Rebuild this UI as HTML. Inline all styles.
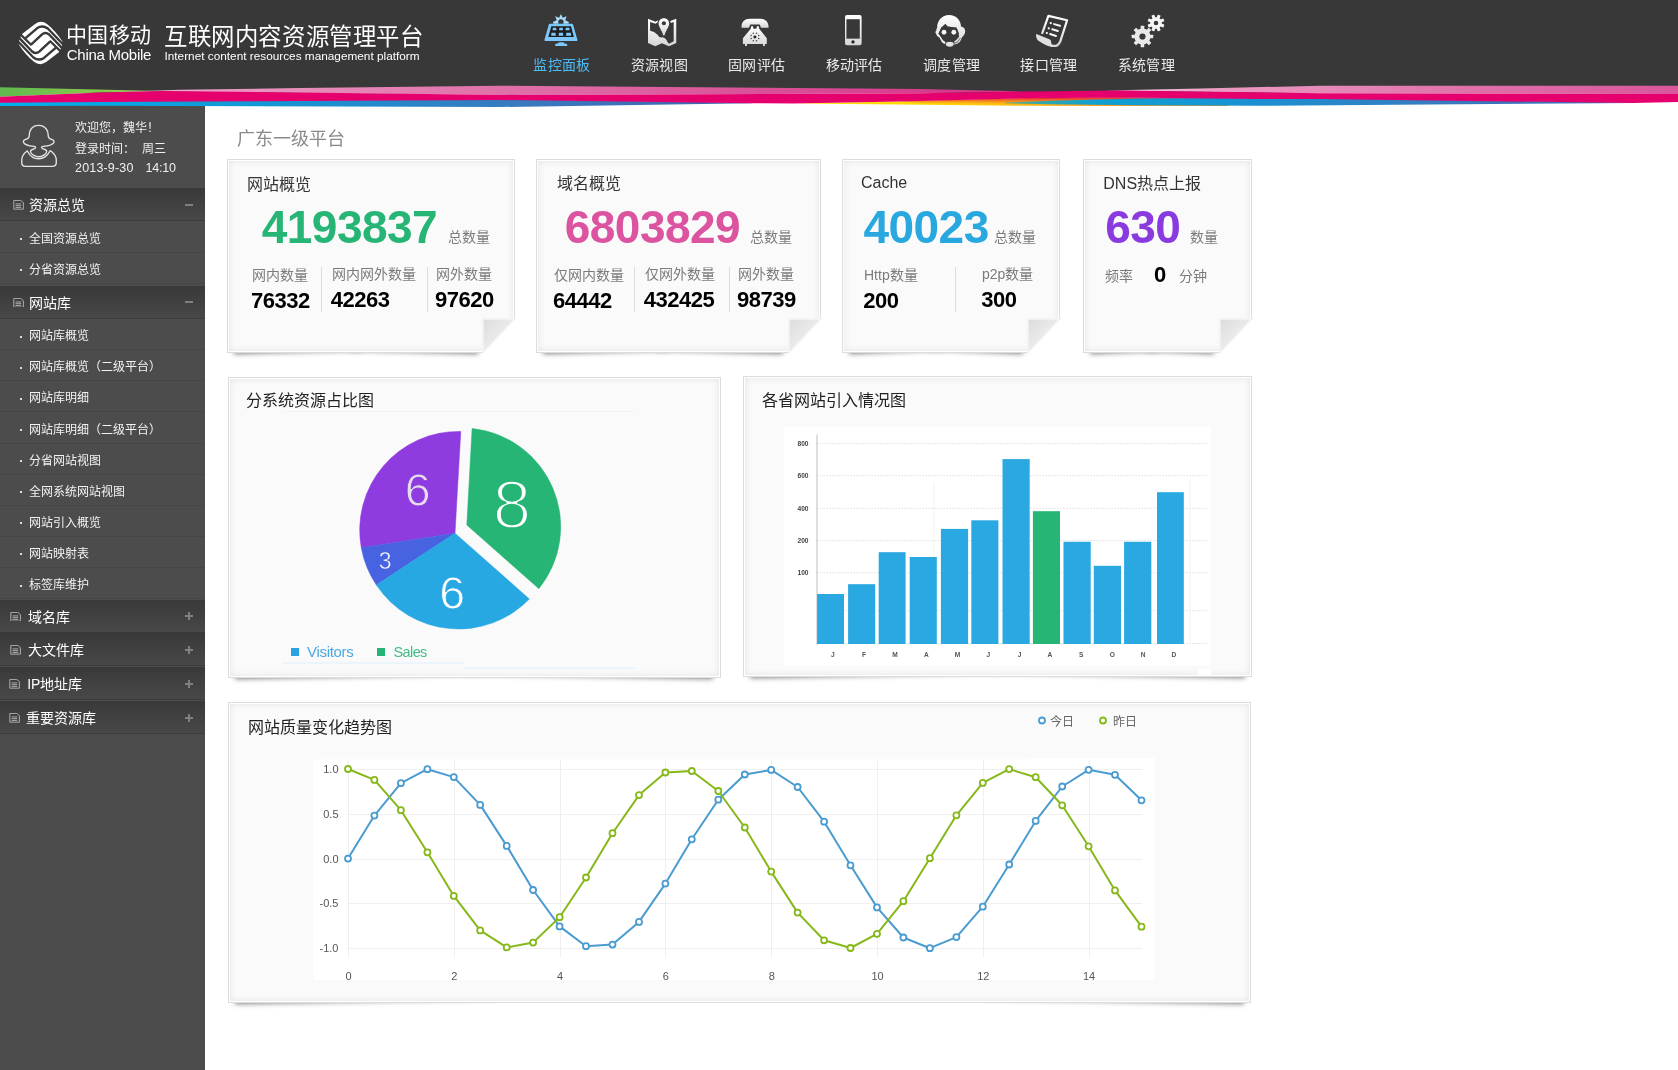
<!DOCTYPE html>
<html lang="zh-CN"><head><meta charset="utf-8"><title>互联网内容资源管理平台</title>
<style>
*{margin:0;padding:0;box-sizing:border-box}
html,body{width:1678px;height:1070px;overflow:hidden;background:#fff}
body{font-family:"Liberation Sans",sans-serif;position:relative;color:#333;will-change:transform}
.a{position:absolute;white-space:nowrap}
.hdr{left:0;top:0;width:1678px;height:93px;background:#383838}
.side{left:0;top:100px;width:205px;height:970px;background:#4c4c4c}
.t{position:absolute;white-space:nowrap;line-height:20px;height:20px}
.nav{position:absolute;top:55px;width:98px;text-align:center;font-size:14px;line-height:20px;color:#eaeaea;letter-spacing:.3px}
.sh{position:absolute;left:0;width:205px;height:33px;background:linear-gradient(#393939,#484848);border-bottom:1px solid #3b3b3b}
.sh .lb{position:absolute;left:28px;top:7px;font-size:14px;line-height:20px;color:#fff}
.sh .mh{position:absolute;left:185px;top:15.5px;width:8px;height:2px;background:#808080}
.sh .mv{position:absolute;left:188px;top:12.5px;width:2px;height:8px;background:#808080}
.si{position:absolute;left:0;width:205px;height:31px;border-bottom:1px solid #454545;font-size:12px;line-height:30px;color:#f2f2f2}
.si i{position:absolute;left:20px;top:16.5px;width:2px;height:2px;background:#ddd}
.si span{position:absolute;left:29px;top:2px}
.card{position:absolute;background:#fafafa;border:1px solid #dcdcdc;box-shadow:inset 0 0 0 1px #fff, inset 0 0 7px 1px rgba(0,0,0,.09)}
.num{position:absolute;font-weight:bold;white-space:nowrap}
</style></head>
<body>
<div class="a hdr"></div>
<div class="a side"></div>
<svg class="a" style="left:10px;top:115px" width="60" height="60" viewBox="0 0 1070 1070">
<g fill="none" stroke="#e6e6e6" stroke-width="24" stroke-linejoin="round" stroke-linecap="round">
<path d="M510 185 C390 185 345 280 345 350 C345 400 320 425 280 435 C245 445 235 470 240 485 C260 540 380 555 430 560 C465 565 460 590 440 600 C400 610 365 615 365 650 C370 700 450 745 510 745 C570 745 650 700 655 650 C655 615 620 610 580 600 C560 590 555 565 590 560 C640 555 760 540 785 485 C790 470 775 445 740 435 C700 425 680 400 680 350 C680 280 630 185 510 185 Z"/>
<path d="M300 645 C240 690 210 740 210 800 L210 850 C210 890 240 915 280 915 L750 915 C790 915 825 890 825 850 L825 800 C825 740 790 690 735 645 C720 640 705 645 700 660 C670 730 590 780 510 780 C430 780 355 730 320 660 C315 645 305 640 300 645 Z"/>
</g></svg>
<div class="t" style="left:75px;top:120.4px;font-size:12px;line-height:16px;height:16px;color:#efefef;">欢迎您，魏华！</div>
<div class="t" style="left:75px;top:140.6px;font-size:12px;line-height:16px;height:16px;color:#efefef;">登录时间：&nbsp; 周三</div>
<div class="t" style="left:75px;top:160.4px;font-size:12.5px;line-height:17px;height:17px;color:#efefef;letter-spacing:.18px;">2013-9-30</div>
<div class="t" style="left:145.6px;top:160.4px;font-size:12.5px;line-height:17px;height:17px;color:#efefef;letter-spacing:-.25px;">14:10</div>
<div class="sh" style="top:188px"><svg style="position:absolute;left:12.8px;top:12px" width="11.2" height="9.6" viewBox="0 0 12 11"><path d="M.5 .5 H8.5 L11.5 3 V10.5 H.5 Z" fill="none" stroke="#bbb" stroke-width="1"/><path d="M2.5 4.5 H9 M2.5 6.5 H9 M2.5 8.5 H9" stroke="#bbb" stroke-width="1"/></svg><span class="lb" style="left:28.5px">资源总览</span><i class="mh"></i></div>
<div class="si" style="top:221.5px"><i></i><span>全国资源总览</span></div>
<div class="si" style="top:252.5px"><i></i><span>分省资源总览</span></div>
<div class="sh" style="top:285.5px"><svg style="position:absolute;left:12.8px;top:12px" width="11.2" height="9.6" viewBox="0 0 12 11"><path d="M.5 .5 H8.5 L11.5 3 V10.5 H.5 Z" fill="none" stroke="#bbb" stroke-width="1"/><path d="M2.5 4.5 H9 M2.5 6.5 H9 M2.5 8.5 H9" stroke="#bbb" stroke-width="1"/></svg><span class="lb" style="left:28.5px">网站库</span><i class="mh"></i></div>
<div class="si" style="top:319.2px"><i></i><span>网站库概览</span></div>
<div class="si" style="top:350.3px"><i></i><span>网站库概览（二级平台）</span></div>
<div class="si" style="top:381.4px"><i></i><span>网站库明细</span></div>
<div class="si" style="top:412.5px"><i></i><span>网站库明细（二级平台）</span></div>
<div class="si" style="top:443.6px"><i></i><span>分省网站视图</span></div>
<div class="si" style="top:474.7px"><i></i><span>全网系统网站视图</span></div>
<div class="si" style="top:505.8px"><i></i><span>网站引入概览</span></div>
<div class="si" style="top:536.9px"><i></i><span>网站映射表</span></div>
<div class="si" style="top:568px"><i></i><span>标签库维护</span></div>
<div class="sh" style="top:599.6px"><svg style="position:absolute;left:10px;top:12px" width="11.2" height="9.6" viewBox="0 0 12 11"><path d="M.5 .5 H8.5 L11.5 3 V10.5 H.5 Z" fill="none" stroke="#bbb" stroke-width="1"/><path d="M2.5 4.5 H9 M2.5 6.5 H9 M2.5 8.5 H9" stroke="#bbb" stroke-width="1"/></svg><span class="lb" style="left:27.8px">域名库</span><i class="mh"></i><i class="mv"></i></div>
<div class="sh" style="top:633.45px"><svg style="position:absolute;left:10px;top:12px" width="11.2" height="9.6" viewBox="0 0 12 11"><path d="M.5 .5 H8.5 L11.5 3 V10.5 H.5 Z" fill="none" stroke="#bbb" stroke-width="1"/><path d="M2.5 4.5 H9 M2.5 6.5 H9 M2.5 8.5 H9" stroke="#bbb" stroke-width="1"/></svg><span class="lb" style="left:27.8px">大文件库</span><i class="mh"></i><i class="mv"></i></div>
<div class="sh" style="top:667.3px"><svg style="position:absolute;left:9px;top:12px" width="11.2" height="9.6" viewBox="0 0 12 11"><path d="M.5 .5 H8.5 L11.5 3 V10.5 H.5 Z" fill="none" stroke="#bbb" stroke-width="1"/><path d="M2.5 4.5 H9 M2.5 6.5 H9 M2.5 8.5 H9" stroke="#bbb" stroke-width="1"/></svg><span class="lb" style="left:27.2px">IP地址库</span><i class="mh"></i><i class="mv"></i></div>
<div class="sh" style="top:701.15px"><svg style="position:absolute;left:9px;top:12px" width="11.2" height="9.6" viewBox="0 0 12 11"><path d="M.5 .5 H8.5 L11.5 3 V10.5 H.5 Z" fill="none" stroke="#bbb" stroke-width="1"/><path d="M2.5 4.5 H9 M2.5 6.5 H9 M2.5 8.5 H9" stroke="#bbb" stroke-width="1"/></svg><span class="lb" style="left:26px">重要资源库</span><i class="mh"></i><i class="mv"></i></div>
<svg class="a" style="left:0;top:84px" width="1678" height="26" viewBox="0 84 1678 26">
<defs>
<linearGradient id="gG" x1="0" x2="162" gradientUnits="userSpaceOnUse"><stop offset="0" stop-color="#62b94f"/><stop offset="1" stop-color="#9bd44a"/></linearGradient>
<linearGradient id="gL1" x1="105" x2="1030" gradientUnits="userSpaceOnUse"><stop offset="0" stop-color="#f6cfe0"/><stop offset=".12" stop-color="#eb9ac2"/><stop offset=".4" stop-color="#e074ab"/><stop offset=".75" stop-color="#d94c96"/><stop offset="1" stop-color="#d63087"/></linearGradient>
<linearGradient id="gL2" x1="1110" x2="1678" gradientUnits="userSpaceOnUse"><stop offset="0" stop-color="#f6cfe0"/><stop offset=".2" stop-color="#eb9ac2"/><stop offset=".6" stop-color="#e074ab"/><stop offset="1" stop-color="#d9569c"/></linearGradient>
<linearGradient id="gB1" x1="0" x2="760" gradientUnits="userSpaceOnUse"><stop offset="0" stop-color="#00b2ee"/><stop offset=".35" stop-color="#1496d4"/><stop offset=".7" stop-color="#3a78be"/><stop offset="1" stop-color="#3d66b0"/></linearGradient>
<linearGradient id="gB2" x1="1030" x2="1640" gradientUnits="userSpaceOnUse"><stop offset="0" stop-color="#3aa9a0"/><stop offset=".1" stop-color="#10a0d0"/><stop offset=".3" stop-color="#1496d4"/><stop offset=".7" stop-color="#3a78be"/><stop offset="1" stop-color="#3d66b0"/></linearGradient>
<linearGradient id="gY" x1="793" x2="1210" gradientUnits="userSpaceOnUse"><stop offset="0" stop-color="#ffe600"/><stop offset=".4" stop-color="#ffcf0a"/><stop offset=".7" stop-color="#f9a11b"/><stop offset="1" stop-color="#f7941d"/></linearGradient>
<linearGradient id="gO" x1="0" x2="0" y1="97.5" y2="104" gradientUnits="userSpaceOnUse"><stop offset="0" stop-color="#e8203c"/><stop offset=".45" stop-color="#f0662a" stop-opacity=".85"/><stop offset="1" stop-color="#f58220" stop-opacity="0"/></linearGradient>
</defs>
<polygon points="0,87.3 162,91 100,92.6 0,96.8" fill="url(#gG)"/>
<polygon points="105,92.4 180,89.8 300,88 500,85.8 700,87.2 920,89 1030,91.5 920,93.3 520,95 162,91.6" fill="url(#gL1)"/>
<polygon points="1105,90.6 1200,88.4 1320,85.8 1678,85.8 1678,94 1320,93.3" fill="url(#gL2)"/>
<polygon points="0,101.6 100,100.9 500,99 750,102.8 752,103.2 500,107 100,105.8 0,106" fill="url(#gB1)"/>
<polygon points="793,103.5 900,101.5 1030,98.2 1118,97.5 1210,98.8 1230,106 1118,106 1030,105.8 900,104.6" fill="url(#gY)"/>
<polygon points="900,101.3 965,99.6 1030,98 1118,97.3 1210,98.6 1150,100.4 1080,102.2 1010,104 930,104" fill="url(#gO)"/>
<polygon points="1005,102.8 1051,100.7 1137,98.6 1210,98 1320,98 1633,102.6 1635,103 1258,105.8 1137,105.2 1051,104.3 1005,103.2" fill="url(#gB2)"/>
<polygon points="0,96.7 100,92.5 162,91 520,95 920,93.2 1030,91.5 1118,90.5 1320,93.25 1678,94 1678,102 1633,103 1320,99 1258,99 1118,97.5 1030,98.25 900,101.5 793,103.5 750,103.2 500,100 100,102 0,102.7" fill="#e5006d"/>
</svg>
<svg class="a" style="left:17px;top:20px" width="48" height="46" viewBox="0 0 1117 1070"><path d="M110 330 L420 92 Q565 -10 705 98 Q900 260 1050 490 Q1075 540 1040 620 L990 740 L680 978 Q535 1080 395 972 Q200 810 50 580 Q25 530 60 450 Z" fill="#fff"/><g fill="none" stroke="#383838" stroke-linejoin="round"><path d="M192 428 L472 188 Q590 105 718 198 L1075 570" stroke-width="56"/><path d="M326 572 L583 333 Q660 268 748 338 L1050 655" stroke-width="56"/><path d="M908 642 L628 882 Q510 965 382 872 L25 500" stroke-width="56"/><path d="M774 498 L517 737 Q440 802 352 732 L50 415" stroke-width="56"/><path d="M80 335 L338 588" stroke-width="52"/><path d="M1020 735 L762 482" stroke-width="52"/></g></svg>
<div class="t" style="left:66px;top:23.3px;font-size:21px;line-height:24px;height:24px;color:#fff;letter-spacing:.35px;">中国移动</div>
<div class="t" style="left:66.8px;top:43.8px;font-size:15px;line-height:21px;height:21px;color:#fff;letter-spacing:-.27px;">China Mobile</div>
<div class="t" style="left:164px;top:23.45px;font-size:23.4px;line-height:28px;height:28px;color:#fff;letter-spacing:.6px;">互联网内容资源管理平台</div>
<div class="t" style="left:164.5px;top:48px;font-size:11.8px;line-height:16px;height:16px;color:#fff;">Internet content resources management platform</div>
<div class="nav" style="left:513px;color:#4cbcf6;">监控面板</div>
<div class="nav" style="left:610.4px;">资源视图</div>
<div class="nav" style="left:707.8px;">固网评估</div>
<div class="nav" style="left:805.2px;">移动评估</div>
<div class="nav" style="left:902.6px;">调度管理</div>
<div class="nav" style="left:1000px;">接口管理</div>
<div class="nav" style="left:1097.4px;">系统管理</div>
<svg class="a" style="left:535px;top:8px" width="60" height="50" viewBox="0 0 1284 1070"><polygon points="383,300 464,262 433,178 517,209 555,128 593,209 677,178 646,262 727,300 715,335 395,335" fill="#a6dcfd"/><circle cx="555" cy="300" r="58" fill="#383838"/><path d="M318 335 H792 Q808 335 812 350 L908 680 Q912 705 890 705 H220 Q198 705 202 680 L298 350 Q302 335 318 335 Z" fill="#7cc8fc"/><polygon points="350,393 770,393 832,618 285,618" fill="#1f1d1d"/><polygon points="383,425 454,425 462,478 375,478" fill="#7cc8fc"/><polygon points="523,425 592,425 600,478 515,478" fill="#7cc8fc"/><polygon points="658,425 734,425 742,478 650,478" fill="#7cc8fc"/><polygon points="353,532 439,532 447,592 345,592" fill="#7cc8fc"/><polygon points="511,532 597,532 605,592 503,592" fill="#7cc8fc"/><polygon points="671,532 767,532 775,592 663,592" fill="#7cc8fc"/><path d="M430 815 V780 Q430 770 445 768 Q500 760 520 735 H600 Q620 760 675 768 Q690 770 690 780 V815 Z" fill="#7cc8fc"/></svg>
<svg class="a" style="left:630px;top:8px" width="60" height="50" viewBox="0 0 1284 1070"><defs><linearGradient id="ig" x1="0" y1="0" x2="0" y2="1"><stop offset="0" stop-color="#ffffff"/><stop offset="1" stop-color="#d6d6d6"/></linearGradient></defs><path d="M385 232 L545 292 L600 262 L588 312 L545 338 L430 298 V488 Q520 500 590 570 Q620 640 690 628 Q770 640 810 740 L835 765 L935 712 V300 L870 322 L862 280 L990 232 V748 L835 818 L682 757 L540 818 L385 748 Z" fill="url(#ig)"/><path d="M725 218 C790 218 838 266 838 330 C838 400 770 470 738 588 H712 C680 470 612 400 612 330 C612 266 660 218 725 218 Z M725 285 A45 42 0 1 0 725.1 285 Z" fill="url(#ig)" fill-rule="evenodd"/></svg>
<svg class="a" style="left:727px;top:8px" width="60" height="50" viewBox="0 0 1284 1070"><defs><linearGradient id="ig" x1="0" y1="0" x2="0" y2="1"><stop offset="0" stop-color="#ffffff"/><stop offset="1" stop-color="#d6d6d6"/></linearGradient></defs><path d="M312 425 C300 300 380 232 480 232 H720 C820 232 900 300 888 425 H728 L700 352 H498 L470 425 Z" fill="url(#ig)"/><path d="M518 388 H556 L566 445 H630 L640 388 H678 L690 445 L852 650 V772 H812 V815 H770 V772 H428 V815 H385 V772 H340 V650 L508 445 Z" fill="url(#ig)"/><circle cx="597" cy="620" r="32" fill="#222"/><circle cx="678" cy="654" r="16" fill="#444"/><circle cx="631" cy="701" r="16" fill="#444"/><circle cx="563" cy="701" r="16" fill="#444"/><circle cx="516" cy="654" r="16" fill="#444"/><circle cx="516" cy="586" r="16" fill="#444"/><circle cx="563" cy="539" r="16" fill="#444"/><circle cx="631" cy="539" r="16" fill="#444"/><circle cx="678" cy="586" r="16" fill="#444"/></svg>
<svg class="a" style="left:824px;top:8px" width="60" height="50" viewBox="0 0 1284 1070"><defs><linearGradient id="ig" x1="0" y1="0" x2="0" y2="1"><stop offset="0" stop-color="#ffffff"/><stop offset="1" stop-color="#d6d6d6"/></linearGradient></defs><rect x="450" y="150" width="355" height="645" rx="42" fill="url(#ig)"/><rect x="480" y="240" width="286" height="416" fill="#383838"/><circle cx="620" cy="726" r="36" fill="#222"/></svg>
<svg class="a" style="left:921px;top:8px" width="60" height="50" viewBox="0 0 1284 1070"><defs><linearGradient id="ig" x1="0" y1="0" x2="0" y2="1"><stop offset="0" stop-color="#ffffff"/><stop offset="1" stop-color="#d6d6d6"/></linearGradient></defs><path d="M372 545 C330 540 310 470 345 430 C340 270 450 150 600 150 C760 150 850 270 858 400 C920 400 950 450 945 510 C940 580 900 600 870 640 C850 720 800 775 700 780 L690 745 C770 740 810 690 820 640 L800 540 L762 420 L565 395 L522 345 L432 420 L385 540 Z" fill="url(#ig)"/><path d="M332 515 Q350 580 412 612 L468 718 L500 742" fill="none" stroke="#ededed" stroke-width="50" stroke-linecap="round" stroke-linejoin="round"/><polygon points="432,420 522,345 565,395 762,420 812,545 730,700 560,720 470,690 375,545" fill="#383838"/><circle cx="492" cy="520" r="52" fill="#f4f4f4"/><circle cx="702" cy="520" r="52" fill="#f4f4f4"/><path d="M840 620 L770 700 L735 720" fill="none" stroke="#e4e4e4" stroke-width="40" stroke-linecap="round"/><path d="M845 640 Q800 740 700 765" fill="none" stroke="#383838" stroke-width="14"/><ellipse cx="615" cy="775" rx="82" ry="52" fill="#e2e2e2"/></svg>
<svg class="a" style="left:1020px;top:8px" width="60" height="50" viewBox="0 0 1284 1070"><defs><linearGradient id="ig" x1="0" y1="0" x2="0" y2="1"><stop offset="0" stop-color="#ffffff"/><stop offset="1" stop-color="#d6d6d6"/></linearGradient></defs><path d="M478 535 L608 168 L1008 262 L862 715 Q800 840 688 805" fill="none" stroke="url(#ig)" stroke-width="48" stroke-linejoin="round" stroke-linecap="round"/><path d="M345 560 Q350 555 365 560 L640 672 Q672 690 668 745 Q672 790 705 800 Q720 830 690 832 Q600 830 400 705 Q335 650 345 560 Z" fill="#e0e0e0"/><circle cx="658" cy="325" r="24" fill="#fff"/><circle cx="615" cy="435" r="24" fill="#fff"/><circle cx="575" cy="535" r="24" fill="#fff"/><line x1="730" y1="345" x2="855" y2="382" stroke="#f6f6f6" stroke-width="44" stroke-linecap="round"/><line x1="690" y1="455" x2="810" y2="492" stroke="#f6f6f6" stroke-width="44" stroke-linecap="round"/><line x1="645" y1="558" x2="770" y2="598" stroke="#f6f6f6" stroke-width="44" stroke-linecap="round"/></svg>
<svg class="a" style="left:1117px;top:8px" width="60" height="50" viewBox="0 0 1284 1070"><defs><linearGradient id="ig" x1="0" y1="0" x2="0" y2="1"><stop offset="0" stop-color="#ffffff"/><stop offset="1" stop-color="#d6d6d6"/></linearGradient></defs><circle cx="545" cy="610" r="172" fill="#e9e9e9"/><rect x="507" y="380" width="76" height="230" rx="10" fill="#e9e9e9" transform="rotate(0 545 610)"/><rect x="507" y="380" width="76" height="230" rx="10" fill="#e9e9e9" transform="rotate(45 545 610)"/><rect x="507" y="380" width="76" height="230" rx="10" fill="#e9e9e9" transform="rotate(90 545 610)"/><rect x="507" y="380" width="76" height="230" rx="10" fill="#e9e9e9" transform="rotate(135 545 610)"/><rect x="507" y="380" width="76" height="230" rx="10" fill="#e9e9e9" transform="rotate(180 545 610)"/><rect x="507" y="380" width="76" height="230" rx="10" fill="#e9e9e9" transform="rotate(225 545 610)"/><rect x="507" y="380" width="76" height="230" rx="10" fill="#e9e9e9" transform="rotate(270 545 610)"/><rect x="507" y="380" width="76" height="230" rx="10" fill="#e9e9e9" transform="rotate(315 545 610)"/><circle cx="545" cy="610" r="66" fill="#383838"/><circle cx="835" cy="320" r="124" fill="#f7f7f7"/><rect x="802" y="138" width="66" height="182" rx="10" fill="#f7f7f7" transform="rotate(22.5 835 320)"/><rect x="802" y="138" width="66" height="182" rx="10" fill="#f7f7f7" transform="rotate(67.5 835 320)"/><rect x="802" y="138" width="66" height="182" rx="10" fill="#f7f7f7" transform="rotate(112.5 835 320)"/><rect x="802" y="138" width="66" height="182" rx="10" fill="#f7f7f7" transform="rotate(157.5 835 320)"/><rect x="802" y="138" width="66" height="182" rx="10" fill="#f7f7f7" transform="rotate(202.5 835 320)"/><rect x="802" y="138" width="66" height="182" rx="10" fill="#f7f7f7" transform="rotate(247.5 835 320)"/><rect x="802" y="138" width="66" height="182" rx="10" fill="#f7f7f7" transform="rotate(292.5 835 320)"/><rect x="802" y="138" width="66" height="182" rx="10" fill="#f7f7f7" transform="rotate(337.5 835 320)"/><circle cx="835" cy="320" r="48" fill="#383838"/></svg>
<div class="t" style="left:237px;top:126.9px;font-size:18px;line-height:24px;height:24px;color:#8a8a8a;">广东一级平台</div>
<div class="a" style="left:234px;top:339px;width:128.5px;height:10px;box-shadow:0 5px 5px rgba(0,0,0,.5);transform-origin:0 100%;transform:rotate(-1.6deg)"></div>
<div class="a" style="left:348.5px;top:339px;width:128.5px;height:10px;box-shadow:0 5px 5px rgba(0,0,0,.5);transform-origin:100% 100%;transform:rotate(1.6deg)"></div>
<div class="card" style="left:227px;top:159px;width:288px;height:194px"></div>
<svg class="a" style="left:482px;top:318px" width="37" height="39" viewBox="0 0 37 39"><defs><linearGradient id="fd227" x1="0" y1="0" x2=".5" y2=".5"><stop offset="0" stop-color="#dcdcdc"/><stop offset="1" stop-color="#ebebeb"/></linearGradient></defs><polygon points="1,1 37,1 37,39 1,39" fill="#fff"/><polygon points="0,0 34,0 34,1 1.5,36 0,36" fill="#fafafa"/><polygon points="1.5,1.5 32,1.5 1.5,34" fill="url(#fd227)"/><polygon points="0,0 34,0 34,1.5 1.5,1.5 1.5,36 0,36" fill="#f3f3f3"/></svg>
<div class="t" style="left:247px;top:173.5px;font-size:16px;line-height:22px;height:22px;color:#333;">网站概览</div>
<div class="num" style="left:261.8px;top:203.7px;font-size:46px;line-height:46px;color:#27b576;letter-spacing:-0.55px">4193837</div>
<div class="t" style="left:448.3px;top:228.3px;font-size:14px;line-height:19px;height:19px;color:#7b7b7b;">总数量</div>
<div class="t" style="left:252px;top:266.1px;font-size:14px;line-height:19px;height:19px;color:#7b7b7b;">网内数量</div>
<div class="t" style="left:332px;top:265.3px;font-size:14px;line-height:19px;height:19px;color:#7b7b7b;">网内网外数量</div>
<div class="t" style="left:436px;top:265.3px;font-size:14px;line-height:19px;height:19px;color:#7b7b7b;">网外数量</div>
<div class="num" style="left:251px;top:290.3px;font-size:22px;line-height:22px;color:#000;letter-spacing:-0.5px">76332</div>
<div class="num" style="left:330.8px;top:289.2px;font-size:22px;line-height:22px;color:#000;letter-spacing:-0.5px">42263</div>
<div class="num" style="left:435px;top:289.2px;font-size:22px;line-height:22px;color:#000;letter-spacing:-0.5px">97620</div>
<div class="a" style="left:321px;top:266.5px;width:1px;height:45px;background:#dcdcdc"></div>
<div class="a" style="left:427px;top:266.5px;width:1px;height:45px;background:#dcdcdc"></div>
<div class="a" style="left:543px;top:339px;width:127px;height:10px;box-shadow:0 5px 5px rgba(0,0,0,.5);transform-origin:0 100%;transform:rotate(-1.6deg)"></div>
<div class="a" style="left:656px;top:339px;width:127px;height:10px;box-shadow:0 5px 5px rgba(0,0,0,.5);transform-origin:100% 100%;transform:rotate(1.6deg)"></div>
<div class="card" style="left:536px;top:159px;width:285px;height:194px"></div>
<svg class="a" style="left:788px;top:318px" width="37" height="39" viewBox="0 0 37 39"><defs><linearGradient id="fd536" x1="0" y1="0" x2=".5" y2=".5"><stop offset="0" stop-color="#dcdcdc"/><stop offset="1" stop-color="#ebebeb"/></linearGradient></defs><polygon points="1,1 37,1 37,39 1,39" fill="#fff"/><polygon points="0,0 34,0 34,1 1.5,36 0,36" fill="#fafafa"/><polygon points="1.5,1.5 32,1.5 1.5,34" fill="url(#fd536)"/><polygon points="0,0 34,0 34,1.5 1.5,1.5 1.5,36 0,36" fill="#f3f3f3"/></svg>
<div class="t" style="left:557px;top:173px;font-size:16px;line-height:22px;height:22px;color:#333;">域名概览</div>
<div class="num" style="left:564.8px;top:203.7px;font-size:46px;line-height:46px;color:#dc54a0;letter-spacing:-0.55px">6803829</div>
<div class="t" style="left:750.3px;top:228.3px;font-size:14px;line-height:19px;height:19px;color:#7b7b7b;">总数量</div>
<div class="t" style="left:554px;top:266.3px;font-size:14px;line-height:19px;height:19px;color:#7b7b7b;">仅网内数量</div>
<div class="t" style="left:644.8px;top:265.4px;font-size:14px;line-height:19px;height:19px;color:#7b7b7b;">仅网外数量</div>
<div class="t" style="left:738.2px;top:265.4px;font-size:14px;line-height:19px;height:19px;color:#7b7b7b;">网外数量</div>
<div class="num" style="left:553px;top:290.3px;font-size:22px;line-height:22px;color:#000;letter-spacing:-0.5px">64442</div>
<div class="num" style="left:643.8px;top:289.2px;font-size:22px;line-height:22px;color:#000;letter-spacing:-0.5px">432425</div>
<div class="num" style="left:737px;top:289.2px;font-size:22px;line-height:22px;color:#000;letter-spacing:-0.5px">98739</div>
<div class="a" style="left:634px;top:266.5px;width:1px;height:45px;background:#dcdcdc"></div>
<div class="a" style="left:729px;top:266.5px;width:1px;height:45px;background:#dcdcdc"></div>
<div class="a" style="left:849px;top:339px;width:93.5px;height:10px;box-shadow:0 5px 5px rgba(0,0,0,.5);transform-origin:0 100%;transform:rotate(-2.4deg)"></div>
<div class="a" style="left:928.5px;top:339px;width:93.5px;height:10px;box-shadow:0 5px 5px rgba(0,0,0,.5);transform-origin:100% 100%;transform:rotate(2.4deg)"></div>
<div class="card" style="left:842px;top:159px;width:218px;height:194px"></div>
<svg class="a" style="left:1027px;top:318px" width="37" height="39" viewBox="0 0 37 39"><defs><linearGradient id="fd842" x1="0" y1="0" x2=".5" y2=".5"><stop offset="0" stop-color="#dcdcdc"/><stop offset="1" stop-color="#ebebeb"/></linearGradient></defs><polygon points="1,1 37,1 37,39 1,39" fill="#fff"/><polygon points="0,0 34,0 34,1 1.5,36 0,36" fill="#fafafa"/><polygon points="1.5,1.5 32,1.5 1.5,34" fill="url(#fd842)"/><polygon points="0,0 34,0 34,1.5 1.5,1.5 1.5,36 0,36" fill="#f3f3f3"/></svg>
<div class="t" style="left:861px;top:171.5px;font-size:16px;line-height:22px;height:22px;color:#333;">Cache</div>
<div class="num" style="left:863.5px;top:203.7px;font-size:46px;line-height:46px;color:#29a8e0;letter-spacing:-0.55px">40023</div>
<div class="t" style="left:994.4px;top:228.2px;font-size:14px;line-height:19px;height:19px;color:#7b7b7b;">总数量</div>
<div class="t" style="left:864px;top:266.1px;font-size:14px;line-height:19px;height:19px;color:#7b7b7b;">Http数量</div>
<div class="t" style="left:982px;top:265.3px;font-size:14px;line-height:19px;height:19px;color:#7b7b7b;">p2p数量</div>
<div class="num" style="left:863.2px;top:290.3px;font-size:22px;line-height:22px;color:#000;letter-spacing:-0.5px">200</div>
<div class="num" style="left:981.3px;top:289.1px;font-size:22px;line-height:22px;color:#000;letter-spacing:-0.5px">300</div>
<div class="a" style="left:955px;top:266.5px;width:1px;height:45px;background:#dcdcdc"></div>
<div class="a" style="left:1090px;top:339px;width:69px;height:10px;box-shadow:0 5px 5px rgba(0,0,0,.5);transform-origin:0 100%;transform:rotate(-2.4deg)"></div>
<div class="a" style="left:1145px;top:339px;width:69px;height:10px;box-shadow:0 5px 5px rgba(0,0,0,.5);transform-origin:100% 100%;transform:rotate(2.4deg)"></div>
<div class="card" style="left:1083px;top:159px;width:169px;height:194px"></div>
<svg class="a" style="left:1219px;top:318px" width="37" height="39" viewBox="0 0 37 39"><defs><linearGradient id="fd1083" x1="0" y1="0" x2=".5" y2=".5"><stop offset="0" stop-color="#dcdcdc"/><stop offset="1" stop-color="#ebebeb"/></linearGradient></defs><polygon points="1,1 37,1 37,39 1,39" fill="#fff"/><polygon points="0,0 34,0 34,1 1.5,36 0,36" fill="#fafafa"/><polygon points="1.5,1.5 32,1.5 1.5,34" fill="url(#fd1083)"/><polygon points="0,0 34,0 34,1.5 1.5,1.5 1.5,36 0,36" fill="#f3f3f3"/></svg>
<div class="t" style="left:1103.3px;top:172.8px;font-size:16px;line-height:22px;height:22px;color:#333;">DNS热点上报</div>
<div class="num" style="left:1105.3px;top:203.7px;font-size:46px;line-height:46px;color:#8a3be0;letter-spacing:-0.55px">630</div>
<div class="t" style="left:1189.6px;top:228.2px;font-size:14px;line-height:19px;height:19px;color:#7b7b7b;">数量</div>
<div class="t" style="left:1104.5px;top:266.5px;font-size:14px;line-height:19px;height:19px;color:#7b7b7b;">频率</div>
<div class="num" style="left:1154px;top:264.2px;font-size:22px;line-height:22px;color:#000;letter-spacing:0px">0</div>
<div class="t" style="left:1178.5px;top:266.5px;font-size:14px;line-height:19px;height:19px;color:#7b7b7b;">分钟</div>
<div class="a" style="left:235px;top:664px;width:246.25px;height:10px;box-shadow:0 5px 5px rgba(0,0,0,.5);transform-origin:0 100%;transform:rotate(-1.1deg)"></div>
<div class="a" style="left:467.25px;top:664px;width:246.25px;height:10px;box-shadow:0 5px 5px rgba(0,0,0,.5);transform-origin:100% 100%;transform:rotate(1.1deg)"></div>
<div class="card" style="left:228px;top:376.5px;width:492.5px;height:301.5px"></div>
<div class="t" style="left:246px;top:390px;font-size:16px;line-height:22px;height:22px;color:#222;">分系统资源占比图</div>
<div class="a" style="left:282px;top:411px;width:353px;height:1px;background:#edf5fc"></div>
<div class="a" style="left:282px;top:661.5px;width:182px;height:2px;background:#ecf5fc"></div>
<div class="a" style="left:464px;top:666.5px;width:171px;height:2px;background:#ecf5fc"></div>
<svg class="a" style="left:340px;top:415px" width="240" height="230" viewBox="340 415 240 230" font-family="Liberation Sans, sans-serif">
<path d="M455.00 533.20 L460.79 431.43 A98.8 98.8 0 0 0 361.29 547.84 Z" fill="#8e3be0" stroke="#8e3be0" stroke-width=".5"/><path d="M455.00 533.20 L361.29 547.84 A98.8 98.8 0 0 0 376.37 585.12 Z" fill="#4763e2" stroke="#4763e2" stroke-width=".5"/><path d="M455.00 533.20 L376.37 585.12 A98.8 98.8 0 0 0 529.39 599.02 Z" fill="#28a8e2" stroke="#28a8e2" stroke-width=".5"/><path d="M466.80 525.00 L472.09 428.43 A98.8 98.8 0 0 1 538.86 588.65 Z" fill="#27b576" stroke="#27b576" stroke-width=".5"/><text x="417.8" y="505.747" font-size="46.5" text-anchor="middle" fill="#e6dcec" stroke="#8e3be0" stroke-width="0.9" style="paint-order:fill stroke">6</text><text x="511.9" y="527.802" font-size="69" text-anchor="middle" fill="#ffffff" stroke="#27b576" stroke-width="2.4" style="paint-order:fill stroke">8</text><text x="385.1" y="568.934" font-size="23" text-anchor="middle" fill="#ffffff" stroke="#4763e2" stroke-width="0.5" style="paint-order:fill stroke">3</text><text x="452.2" y="608.947" font-size="46.5" text-anchor="middle" fill="#ffffff" stroke="#28a8e2" stroke-width="0.9" style="paint-order:fill stroke">6</text></svg>
<div class="a" style="left:291px;top:648px;width:8px;height:8px;background:#29a3e0"></div>
<div class="t" style="left:307px;top:640.8px;font-size:15px;line-height:21px;height:21px;color:#4aa9e0;letter-spacing:-.3px;">Visitors</div>
<div class="a" style="left:377px;top:648px;width:8px;height:8px;background:#27b576"></div>
<div class="t" style="left:393.5px;top:641.5px;font-size:14.5px;line-height:20px;height:20px;color:#3fbd85;letter-spacing:-.6px;">Sales</div>
<div class="a" style="left:749.5px;top:663px;width:254.5px;height:10px;box-shadow:0 5px 5px rgba(0,0,0,.5);transform-origin:0 100%;transform:rotate(-1.1deg)"></div>
<div class="a" style="left:990px;top:663px;width:254.5px;height:10px;box-shadow:0 5px 5px rgba(0,0,0,.5);transform-origin:100% 100%;transform:rotate(1.1deg)"></div>
<div class="card" style="left:742.5px;top:375.5px;width:509px;height:301.5px"></div>
<div class="t" style="left:762px;top:390px;font-size:16px;line-height:22px;height:22px;color:#222;">各省网站引入情况图</div>
<svg class="a" style="left:784px;top:427px" width="428" height="250" viewBox="784 427 428 250" font-family="Liberation Sans, sans-serif">
<rect x="784" y="427" width="427" height="238.5" fill="#fff"/><rect x="1198" y="669" width="13" height="6" fill="#fff"/><line x1="817.5" x2="1208" y1="443.6" y2="443.6" stroke="#d4d4d4" stroke-width="1" stroke-dasharray="1.2 1.8"/><line x1="817.5" x2="1208" y1="475.8" y2="475.8" stroke="#d4d4d4" stroke-width="1" stroke-dasharray="1.2 1.8"/><line x1="817.5" x2="1208" y1="508.3" y2="508.3" stroke="#d4d4d4" stroke-width="1" stroke-dasharray="1.2 1.8"/><line x1="817.5" x2="1208" y1="540.6" y2="540.6" stroke="#d4d4d4" stroke-width="1" stroke-dasharray="1.2 1.8"/><line x1="817.5" x2="1208" y1="572.8" y2="572.8" stroke="#d4d4d4" stroke-width="1" stroke-dasharray="1.2 1.8"/><line x1="817.5" x2="1208" y1="610.7" y2="610.7" stroke="#d4d4d4" stroke-width="1" stroke-dasharray="1.2 1.8"/><line x1="817.5" x2="1208" y1="643.5" y2="643.5" stroke="#d4d4d4" stroke-width="1" stroke-dasharray="1.2 1.8"/><line x1="934" x2="934" y1="482" y2="644" stroke="#f3f3f3"/><line x1="1190" x2="1190" y1="480" y2="644" stroke="#f3f3f3"/><line x1="817" x2="817" y1="434.5" y2="644.5" stroke="#c8c8c8" stroke-width="1.2"/><text x="808.5" y="445.8" font-size="6.6" font-weight="bold" text-anchor="end" fill="#444">800</text><text x="808.5" y="478" font-size="6.6" font-weight="bold" text-anchor="end" fill="#444">600</text><text x="808.5" y="510.5" font-size="6.6" font-weight="bold" text-anchor="end" fill="#444">400</text><text x="808.5" y="542.8" font-size="6.6" font-weight="bold" text-anchor="end" fill="#444">200</text><text x="808.5" y="575" font-size="6.6" font-weight="bold" text-anchor="end" fill="#444">100</text><rect x="817.1" y="594" width="26.9" height="50" fill="#29a8e2"/><rect x="848.1" y="584.2" width="27.1" height="59.8" fill="#29a8e2"/><rect x="878.7" y="552.2" width="26.9" height="91.8" fill="#29a8e2"/><rect x="909.7" y="557" width="27.1" height="87" fill="#29a8e2"/><rect x="940.9" y="528.9" width="27.2" height="115.1" fill="#29a8e2"/><rect x="971.3" y="520.3" width="27.1" height="123.7" fill="#29a8e2"/><rect x="1002.5" y="459.1" width="27.2" height="184.9" fill="#29a8e2"/><rect x="1032.9" y="511.2" width="27.1" height="132.8" fill="#27b576"/><rect x="1063.5" y="541.8" width="27.2" height="102.2" fill="#29a8e2"/><rect x="1093.8" y="565.8" width="27.2" height="78.2" fill="#29a8e2"/><rect x="1124.1" y="541.8" width="27.2" height="102.2" fill="#29a8e2"/><rect x="1157" y="492.2" width="26.8" height="151.8" fill="#29a8e2"/><text x="832.9" y="656.8" font-size="6.6" font-weight="bold" text-anchor="middle" fill="#555">J</text><text x="863.9" y="656.8" font-size="6.6" font-weight="bold" text-anchor="middle" fill="#555">F</text><text x="895.1" y="656.8" font-size="6.6" font-weight="bold" text-anchor="middle" fill="#555">M</text><text x="926.4" y="656.8" font-size="6.6" font-weight="bold" text-anchor="middle" fill="#555">A</text><text x="957.4" y="656.8" font-size="6.6" font-weight="bold" text-anchor="middle" fill="#555">M</text><text x="988.3" y="656.8" font-size="6.6" font-weight="bold" text-anchor="middle" fill="#555">J</text><text x="1019.6" y="656.8" font-size="6.6" font-weight="bold" text-anchor="middle" fill="#555">J</text><text x="1049.9" y="656.8" font-size="6.6" font-weight="bold" text-anchor="middle" fill="#555">A</text><text x="1081.2" y="656.8" font-size="6.6" font-weight="bold" text-anchor="middle" fill="#555">S</text><text x="1112.4" y="656.8" font-size="6.6" font-weight="bold" text-anchor="middle" fill="#555">O</text><text x="1143.1" y="656.8" font-size="6.6" font-weight="bold" text-anchor="middle" fill="#555">N</text><text x="1174" y="656.8" font-size="6.6" font-weight="bold" text-anchor="middle" fill="#555">D</text></svg>
<div class="a" style="left:235px;top:989px;width:260px;height:10px;box-shadow:0 5px 5px rgba(0,0,0,.5);transform-origin:0 100%;transform:rotate(-1.1deg)"></div>
<div class="a" style="left:983.5px;top:989px;width:260px;height:10px;box-shadow:0 5px 5px rgba(0,0,0,.5);transform-origin:100% 100%;transform:rotate(1.1deg)"></div>
<div class="card" style="left:228px;top:701.5px;width:1022.5px;height:301.5px"></div>
<div class="t" style="left:248px;top:717px;font-size:16px;line-height:22px;height:22px;color:#222;">网站质量变化趋势图</div>
<svg class="a" style="left:300px;top:705px" width="880" height="290" viewBox="300 705 880 290" font-family="Liberation Sans, sans-serif">
<rect x="313.5" y="759.5" width="841.5" height="220.5" fill="#fff"/><rect x="1030" y="758" width="125" height="3" fill="#fff"/><line x1="348.5" x2="348.5" y1="760" y2="957.5" stroke="#efefef"/><text x="348.5" y="980" font-size="11" text-anchor="middle" fill="#555">0</text><line x1="454.5" x2="454.5" y1="760" y2="957.5" stroke="#efefef"/><text x="454.3" y="980" font-size="11" text-anchor="middle" fill="#555">2</text><line x1="560.5" x2="560.5" y1="760" y2="957.5" stroke="#efefef"/><text x="560.1" y="980" font-size="11" text-anchor="middle" fill="#555">4</text><line x1="665.5" x2="665.5" y1="760" y2="957.5" stroke="#efefef"/><text x="665.9" y="980" font-size="11" text-anchor="middle" fill="#555">6</text><line x1="771.5" x2="771.5" y1="760" y2="957.5" stroke="#efefef"/><text x="771.7" y="980" font-size="11" text-anchor="middle" fill="#555">8</text><line x1="877.5" x2="877.5" y1="760" y2="957.5" stroke="#efefef"/><text x="877.5" y="980" font-size="11" text-anchor="middle" fill="#555">10</text><line x1="983.5" x2="983.5" y1="760" y2="957.5" stroke="#efefef"/><text x="983.3" y="980" font-size="11" text-anchor="middle" fill="#555">12</text><line x1="1089.5" x2="1089.5" y1="760" y2="957.5" stroke="#efefef"/><text x="1089.1" y="980" font-size="11" text-anchor="middle" fill="#555">14</text><line x1="348" x2="1142" y1="769.5" y2="769.5" stroke="#efefef"/><text x="338.5" y="772.95" font-size="11" text-anchor="end" fill="#555">1.0</text><line x1="348" x2="1142" y1="814.5" y2="814.5" stroke="#efefef"/><text x="338.5" y="817.775" font-size="11" text-anchor="end" fill="#555">0.5</text><line x1="348" x2="1142" y1="859.5" y2="859.5" stroke="#efefef"/><text x="338.5" y="862.6" font-size="11" text-anchor="end" fill="#555">0.0</text><line x1="348" x2="1142" y1="903.5" y2="903.5" stroke="#efefef"/><text x="338.5" y="907.425" font-size="11" text-anchor="end" fill="#555">-0.5</text><line x1="348" x2="1142" y1="948.5" y2="948.5" stroke="#efefef"/><text x="338.5" y="952.25" font-size="11" text-anchor="end" fill="#555">-1.0</text><polyline points="348.0,858.6 374.4,815.6 400.9,783.2 427.4,769.2 453.8,777.1 480.2,804.9 506.7,845.9 533.1,890.0 559.6,926.4 586.0,946.2 612.5,944.6 639.0,921.9 665.4,883.6 691.8,839.3 718.3,799.7 744.8,774.5 771.2,769.9 797.6,787.0 824.1,821.7 850.5,865.3 877.0,907.4 903.4,937.5 929.9,948.2 956.4,937.1 982.8,906.7 1009.2,864.5 1035.7,820.9 1062.2,786.5 1088.6,769.8 1115.0,774.8 1141.5,800.3" fill="none" stroke="#4a9bd0" stroke-width="2" stroke-linejoin="round"/><circle cx="348.0" cy="858.6" r="3" fill="#fff" stroke="#4a9bd0" stroke-width="1.8"/><circle cx="374.4" cy="815.6" r="3" fill="#fff" stroke="#4a9bd0" stroke-width="1.8"/><circle cx="400.9" cy="783.2" r="3" fill="#fff" stroke="#4a9bd0" stroke-width="1.8"/><circle cx="427.4" cy="769.2" r="3" fill="#fff" stroke="#4a9bd0" stroke-width="1.8"/><circle cx="453.8" cy="777.1" r="3" fill="#fff" stroke="#4a9bd0" stroke-width="1.8"/><circle cx="480.2" cy="804.9" r="3" fill="#fff" stroke="#4a9bd0" stroke-width="1.8"/><circle cx="506.7" cy="845.9" r="3" fill="#fff" stroke="#4a9bd0" stroke-width="1.8"/><circle cx="533.1" cy="890.0" r="3" fill="#fff" stroke="#4a9bd0" stroke-width="1.8"/><circle cx="559.6" cy="926.4" r="3" fill="#fff" stroke="#4a9bd0" stroke-width="1.8"/><circle cx="586.0" cy="946.2" r="3" fill="#fff" stroke="#4a9bd0" stroke-width="1.8"/><circle cx="612.5" cy="944.6" r="3" fill="#fff" stroke="#4a9bd0" stroke-width="1.8"/><circle cx="639.0" cy="921.9" r="3" fill="#fff" stroke="#4a9bd0" stroke-width="1.8"/><circle cx="665.4" cy="883.6" r="3" fill="#fff" stroke="#4a9bd0" stroke-width="1.8"/><circle cx="691.8" cy="839.3" r="3" fill="#fff" stroke="#4a9bd0" stroke-width="1.8"/><circle cx="718.3" cy="799.7" r="3" fill="#fff" stroke="#4a9bd0" stroke-width="1.8"/><circle cx="744.8" cy="774.5" r="3" fill="#fff" stroke="#4a9bd0" stroke-width="1.8"/><circle cx="771.2" cy="769.9" r="3" fill="#fff" stroke="#4a9bd0" stroke-width="1.8"/><circle cx="797.6" cy="787.0" r="3" fill="#fff" stroke="#4a9bd0" stroke-width="1.8"/><circle cx="824.1" cy="821.7" r="3" fill="#fff" stroke="#4a9bd0" stroke-width="1.8"/><circle cx="850.5" cy="865.3" r="3" fill="#fff" stroke="#4a9bd0" stroke-width="1.8"/><circle cx="877.0" cy="907.4" r="3" fill="#fff" stroke="#4a9bd0" stroke-width="1.8"/><circle cx="903.4" cy="937.5" r="3" fill="#fff" stroke="#4a9bd0" stroke-width="1.8"/><circle cx="929.9" cy="948.2" r="3" fill="#fff" stroke="#4a9bd0" stroke-width="1.8"/><circle cx="956.4" cy="937.1" r="3" fill="#fff" stroke="#4a9bd0" stroke-width="1.8"/><circle cx="982.8" cy="906.7" r="3" fill="#fff" stroke="#4a9bd0" stroke-width="1.8"/><circle cx="1009.2" cy="864.5" r="3" fill="#fff" stroke="#4a9bd0" stroke-width="1.8"/><circle cx="1035.7" cy="820.9" r="3" fill="#fff" stroke="#4a9bd0" stroke-width="1.8"/><circle cx="1062.2" cy="786.5" r="3" fill="#fff" stroke="#4a9bd0" stroke-width="1.8"/><circle cx="1088.6" cy="769.8" r="3" fill="#fff" stroke="#4a9bd0" stroke-width="1.8"/><circle cx="1115.0" cy="774.8" r="3" fill="#fff" stroke="#4a9bd0" stroke-width="1.8"/><circle cx="1141.5" cy="800.3" r="3" fill="#fff" stroke="#4a9bd0" stroke-width="1.8"/><polyline points="348.0,769.0 374.4,779.9 400.9,810.2 427.4,852.3 453.8,895.9 480.2,930.4 506.7,947.4 533.1,942.6 559.6,917.2 586.0,877.5 612.5,833.2 639.0,795.1 665.4,772.5 691.8,771.0 718.3,791.0 744.8,827.5 771.2,871.6 797.6,912.6 824.1,940.3 850.5,948.0 877.0,933.8 903.4,901.2 929.9,858.2 956.4,815.3 982.8,782.9 1009.2,769.1 1035.7,777.2 1062.2,805.3 1088.6,846.3 1115.0,890.4 1141.5,926.7" fill="none" stroke="#86b81a" stroke-width="2" stroke-linejoin="round"/><circle cx="348.0" cy="769.0" r="3" fill="#fff" stroke="#86b81a" stroke-width="1.8"/><circle cx="374.4" cy="779.9" r="3" fill="#fff" stroke="#86b81a" stroke-width="1.8"/><circle cx="400.9" cy="810.2" r="3" fill="#fff" stroke="#86b81a" stroke-width="1.8"/><circle cx="427.4" cy="852.3" r="3" fill="#fff" stroke="#86b81a" stroke-width="1.8"/><circle cx="453.8" cy="895.9" r="3" fill="#fff" stroke="#86b81a" stroke-width="1.8"/><circle cx="480.2" cy="930.4" r="3" fill="#fff" stroke="#86b81a" stroke-width="1.8"/><circle cx="506.7" cy="947.4" r="3" fill="#fff" stroke="#86b81a" stroke-width="1.8"/><circle cx="533.1" cy="942.6" r="3" fill="#fff" stroke="#86b81a" stroke-width="1.8"/><circle cx="559.6" cy="917.2" r="3" fill="#fff" stroke="#86b81a" stroke-width="1.8"/><circle cx="586.0" cy="877.5" r="3" fill="#fff" stroke="#86b81a" stroke-width="1.8"/><circle cx="612.5" cy="833.2" r="3" fill="#fff" stroke="#86b81a" stroke-width="1.8"/><circle cx="639.0" cy="795.1" r="3" fill="#fff" stroke="#86b81a" stroke-width="1.8"/><circle cx="665.4" cy="772.5" r="3" fill="#fff" stroke="#86b81a" stroke-width="1.8"/><circle cx="691.8" cy="771.0" r="3" fill="#fff" stroke="#86b81a" stroke-width="1.8"/><circle cx="718.3" cy="791.0" r="3" fill="#fff" stroke="#86b81a" stroke-width="1.8"/><circle cx="744.8" cy="827.5" r="3" fill="#fff" stroke="#86b81a" stroke-width="1.8"/><circle cx="771.2" cy="871.6" r="3" fill="#fff" stroke="#86b81a" stroke-width="1.8"/><circle cx="797.6" cy="912.6" r="3" fill="#fff" stroke="#86b81a" stroke-width="1.8"/><circle cx="824.1" cy="940.3" r="3" fill="#fff" stroke="#86b81a" stroke-width="1.8"/><circle cx="850.5" cy="948.0" r="3" fill="#fff" stroke="#86b81a" stroke-width="1.8"/><circle cx="877.0" cy="933.8" r="3" fill="#fff" stroke="#86b81a" stroke-width="1.8"/><circle cx="903.4" cy="901.2" r="3" fill="#fff" stroke="#86b81a" stroke-width="1.8"/><circle cx="929.9" cy="858.2" r="3" fill="#fff" stroke="#86b81a" stroke-width="1.8"/><circle cx="956.4" cy="815.3" r="3" fill="#fff" stroke="#86b81a" stroke-width="1.8"/><circle cx="982.8" cy="782.9" r="3" fill="#fff" stroke="#86b81a" stroke-width="1.8"/><circle cx="1009.2" cy="769.1" r="3" fill="#fff" stroke="#86b81a" stroke-width="1.8"/><circle cx="1035.7" cy="777.2" r="3" fill="#fff" stroke="#86b81a" stroke-width="1.8"/><circle cx="1062.2" cy="805.3" r="3" fill="#fff" stroke="#86b81a" stroke-width="1.8"/><circle cx="1088.6" cy="846.3" r="3" fill="#fff" stroke="#86b81a" stroke-width="1.8"/><circle cx="1115.0" cy="890.4" r="3" fill="#fff" stroke="#86b81a" stroke-width="1.8"/><circle cx="1141.5" cy="926.7" r="3" fill="#fff" stroke="#86b81a" stroke-width="1.8"/><circle cx="1042" cy="720.5" r="3" fill="#fff" stroke="#4a9bd0" stroke-width="1.8"/><circle cx="1103" cy="720.5" r="3" fill="#fff" stroke="#86b81a" stroke-width="1.8"/></svg>
<div class="t" style="left:1049.5px;top:714px;font-size:12px;line-height:16px;height:16px;color:#666;">今日</div>
<div class="t" style="left:1112.5px;top:714px;font-size:12px;line-height:16px;height:16px;color:#666;">昨日</div>
</body></html>
